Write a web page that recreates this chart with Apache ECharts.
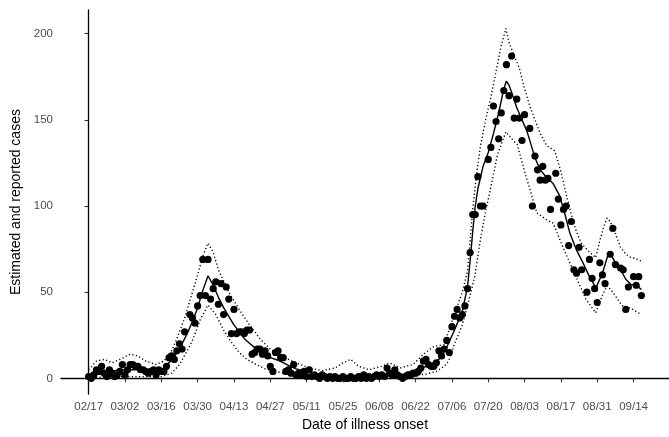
<!DOCTYPE html>
<html><head><meta charset="utf-8">
<script src="https://cdn.jsdelivr.net/npm/echarts@6/dist/echarts.min.js"></script>
<style>html,body{margin:0;padding:0;background:#fff}#c{width:669px;height:437px}</style>
</head><body><div id="c"></div>
<script>
// x values are days since 02/17
const tickDays = [0,14,28,42,56,70,84,98,112,126,140,154,168,182,196,210];
const tickLabels = ['02/17','03/02','03/16','03/30','04/13','04/27','05/11','05/25','06/08','06/22','07/06','07/20','08/03','08/17','08/31','09/14'];
const yTicks = [0,50,100,150,200];

// reported cases, one value per day starting 02/17
const reported = [
 1,0,2,5,4,7,3,
 1,5,3,1,2,4,8,
 2,5,8,8,7,7,5,
 5,4,3,4,5,2,5,
 4,4,7,12,13,11,16,
 20,17,27,null,37,35,32,
 42,48,69,48,69,46,52,
 56,43,55,37,53,46,26,
 40,26,27,27,26,28,28,
 14,15,17,17,14,16,13,
 7,4,15,16,12,12,4,
 5,3,8,2,3,2,4,
 1,5,1,2,1,0,2,
 1,0,1,0,1,0,0,
 1,0,0,1,0,0,1,
 0,2,0,1,0,1,2,
 1,2,1,6,3,2,5,
 2,1,0,1,2,2,3,
 3,4,6,10,11,8,7,
 7,9,16,13,17,22,15,
 30,36,40,35,37,42,52,
 73,95,95,117,100,100,null,
 127,134,158,149,139,154,167,
 182,164,187,151,162,151,138,
 153,null,145,100,129,121,115,
 123,115,116,98,null,119,104,
 89,98,100,77,91,63,61,
 76,63,null,50,69,58,52,
 44,67,60,55,null,72,87,
 66,null,64,63,40,53,null,
 59,54,59,48
];

// estimated cases (solid line)
const estDays = [0,5,10,14,18,22,26,28,30,33,36,38,40,42,44,46,48,50,52,54,56,58,60,63,66,70,73,77,80,86,93,100,110,116,120,124,127,131,135,138,141,144,146,147,148,149,150,152,154,156,158,160,161,162,163,165,167,169,171,172,174,176.5,179,181.5,183.5,185.5,188,190.5,193,195.5,198,200,201,203,205,207,209,211.5,213];
const estimate = [1.5,4,4.5,5,5,4.5,4.5,5,7.5,12.5,20,26,33,41,51,59.5,54,47,41,36,31,27,23,19,15.5,12,10.5,7.5,5.5,3,1.3,1,1,1.5,2,3,5,7.5,11,18,28,39,53,68,85,100,110,123,131,142,154,168,172.5,170,166,157,150,143,133,128,121,116.5,113,106,95.5,84,74.5,67,59,52.5,61,71,72.5,67,63,57.5,54.5,53.5,51.5];

// upper bound (dotted)
const upperDays = [0,3,6,9,12,16,19,22,26,29,32,34,37,39,42,44,46,48,50,54,58,62,66,70,74,80,85,90,95,98,101,104,108,113,116,120,125,129,133,137,140,144,146,147,148,149,150,151,153,155,157,159,160.8,162,164,166,168,170,172,174,176.5,179.6,182,184,186,188,190,192.5,195.4,197,198.5,199.8,201,203,205,207,209,211,213];
const upper = [5,10,11,9,11,14,13,10,8,10,16,23,35,45,60,71,78.5,73,63,50,40,31,23,17,13,9,6,4.5,6,9,11,7,5,7,9,6,8,14,18.5,19.5,33,50,62,80,98,112,124,135,150,163,178,193,203,195,187,180,168,158,150,142,135,132,120,107,95,85,78,74,70,80,88,93,91,84,76,72,70,69.5,68];

// lower bound (dotted)
const lowerDays = [0,10,20,28,32,35,38,40,43,46,49,52,55,58,61,64,68,72,77,84,90,100,115,124,130,134,137,138.7,141,144,146.3,148.8,150.7,152.6,155,157.6,160.8,163,165.2,168,170.2,172.7,176.5,179,182.8,187.8,191.6,195.4,197.9,199.8,202,205.5,209.2,213];
const lower = [0.5,1,1,1,3,8,16,22,34,42.5,37,28,21,15,11,8.5,5.5,4,2.5,1.3,0.7,0.5,0.7,1.2,2.5,4,7,10,20,31,44,59,78,94,111,130,143,139,135.6,120,109,96,92,90,76,59,46,38,48,53.7,50,42.3,40.4,37];

const zip = (xs, ys) => xs.map((x, i) => [x, ys[i]]);
const pts = reported.map((v, i) => v == null ? null : [i, v]).filter(Boolean);

const FONT = 'Liberation Sans, Arial, Helvetica, sans-serif';
const chart = echarts.init(document.getElementById('c'), null, {renderer: 'canvas'});
chart.setOption({
  animation: false,
  backgroundColor: '#fff',
  grid: {left: 61, top: 10, width: 620.4, height: 390, containLabel: false},
  xAxis: {
    type: 'value', min: -10.65, max: 223.65,
    name: 'Date of illness onset', nameLocation: 'middle', nameGap: 23,
    nameTextStyle: {fontFamily: FONT, fontSize: 14, color: '#000'},
    axisLine: {show: true, lineStyle: {color: '#000', width: 1.3}},
    axisTick: {show: true, length: 4, lineStyle: {color: '#333', width: 1.1}, customValues: tickDays},
    axisLabel: {customValues: tickDays, margin: 7, fontFamily: FONT, fontSize: 11.5, color: '#4d4d4d',
      formatter: v => tickLabels[tickDays.indexOf(Math.round(v))] || ''},
    splitLine: {show: false}
  },
  yAxis: {
    type: 'value', min: -9.14, max: 213.7,
    name: 'Estimated and reported cases', nameLocation: 'middle', nameGap: 30, nameRotate: 90,
    nameTextStyle: {fontFamily: FONT, fontSize: 14, color: '#000'},
    axisLine: {show: true, lineStyle: {color: '#000', width: 1.3}},
    axisTick: {show: true, length: 4, lineStyle: {color: '#333', width: 1.1}, customValues: yTicks},
    axisLabel: {customValues: yTicks, margin: 8, fontFamily: FONT, fontSize: 11.5, color: '#4d4d4d'},
    splitLine: {show: false}
  },
  series: [
    {type: 'scatter', data: pts, symbol: 'circle', symbolSize: 7.2,
     itemStyle: {color: '#000', opacity: 1}, silent: true, z: 2},
    {type: 'line', data: zip(estDays, estimate), showSymbol: false, symbol: 'none',
     lineStyle: {color: '#000', width: 1.4}, silent: true, z: 3},
    {type: 'line', data: zip(upperDays, upper), showSymbol: false, symbol: 'none',
     lineStyle: {color: '#000', width: 1.4, type: [1.2, 2.4]}, silent: true, z: 3},
    {type: 'line', data: zip(lowerDays, lower), showSymbol: false, symbol: 'none',
     lineStyle: {color: '#000', width: 1.4, type: [1.2, 2.4]}, silent: true, z: 3}
  ]
});
</script>
</body></html>
